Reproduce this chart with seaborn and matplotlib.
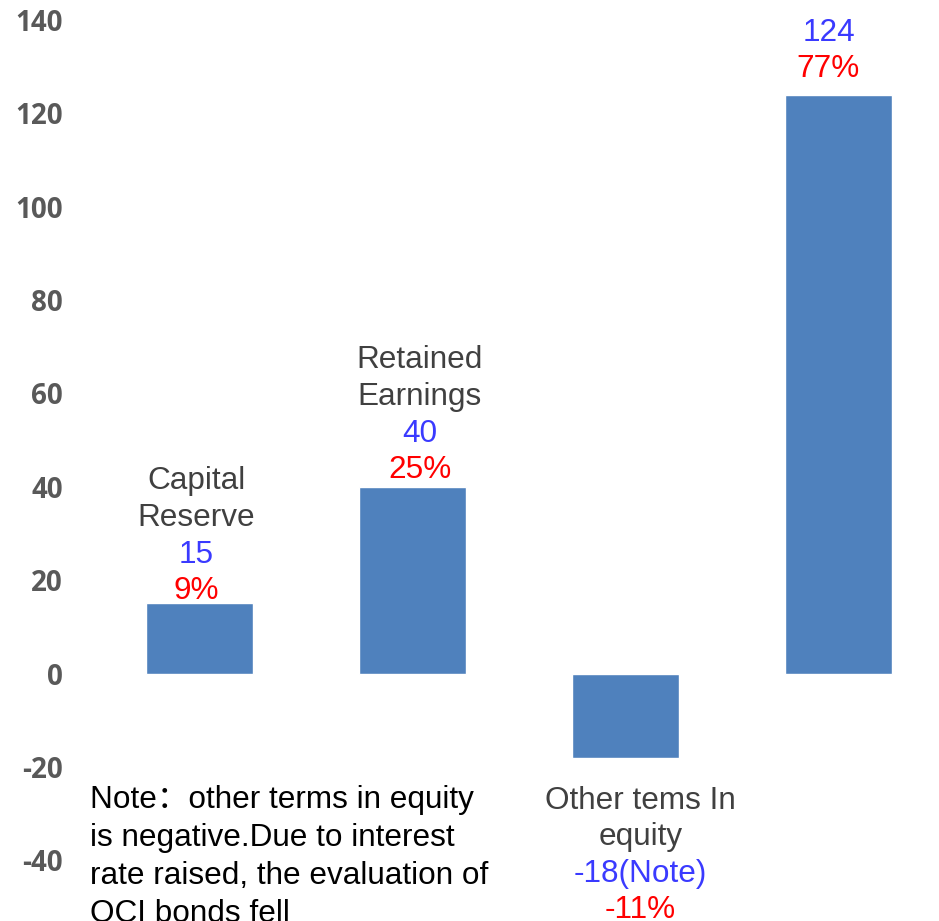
import matplotlib
matplotlib.use("Agg")
import matplotlib.pyplot as plt
import seaborn as sns
import pandas as pd

# ---- data ----
categories = ["Capital Reserve", "Retained Earnings", "Other tems In equity", "Total"]
values = [15, 40, -18, 124]
name_lines = [["Capital", "Reserve"], ["Retained", "Earnings"], ["Other tems In", "equity"], []]
value_labels = ["15", "40", "-18(Note)", "124"]
pct_labels = ["9%", "25%", "-11%", "77%"]
yticks = [-40, -20, 0, 20, 40, 60, 80, 100, 120, 140]
note_lines = ["Note\uff1aother terms in equity",
              "is negative.Due to interest",
              "rate raised, the evaluation of",
              "OCI bonds fell"]

sns.set_theme(style="white")
plt.rcParams["font.family"] = ["Liberation Sans", "Noto Sans CJK SC", "DejaVu Sans"]

W, H = 939, 921
fig = plt.figure(figsize=(W / 100, H / 100), dpi=100)
ax_left = 75
ax = fig.add_axes([ax_left / W, 0, (W - ax_left) / W, 1])

df = pd.DataFrame({"cat": categories, "val": values})
sns.barplot(data=df, x="cat", y="val", color="#4F81BD", saturation=1,
            width=0.5, ax=ax)

# axis scales
x0_px, step_px = 199.5, 213.0
ax.set_xlim((ax_left - x0_px) / step_px, (W - x0_px) / step_px)
zero_px, per_unit = 673.5, 653.5 / 140
ax.set_ylim(-(H - zero_px) / per_unit, zero_px / per_unit)

ax.set_yticks(yticks)
ax.set_yticklabels([str(t) for t in yticks], fontweight="bold", color="#595959",
                   fontsize=20, family=["Open Sans", "DejaVu Sans"])
ax.tick_params(axis="y", length=0, pad=8.6)
ax.set_xticks([])
ax.set_xlabel("")
ax.set_ylabel("")
for s in ax.spines.values():
    s.set_visible(False)

fs = 22.7
name_c, val_c, pct_c = "#404040", "#3A3AFF", "#FF0000"
# label placement (pixels): horizontal nudge and gap from the bar end
x_nudge = [-3, 7, 15, -10]
gaps = [12, 17, 43, 26]
for i, v in enumerate(values):
    if v >= 0:
        g = gaps[i]
        offs = [g, g + 36, g + 73, g + 110]
        texts = [(pct_labels[i], pct_c), (value_labels[i], val_c)]
        texts += [(t, name_c) for t in reversed(name_lines[i])]
    else:
        g = gaps[i]
        offs = [-g, -g - 36, -g - 73, -g - 109]
        texts = [(t, name_c) for t in name_lines[i]]
        texts += [(value_labels[i], val_c), (pct_labels[i], pct_c)]
    for (t, c), o in zip(texts, offs):
        ax.annotate(t, (i, v), xytext=(x_nudge[i], o), textcoords="offset pixels",
                    ha="center", va="center", fontsize=fs, color=c,
                    annotation_clip=False)

for k, line in enumerate(note_lines):
    fig.text(90 / W, 1 - (800 + 38 * k) / H, line, ha="left", va="center",
             fontsize=fs, color="#000000")

fig.savefig("out.png", dpi=100)
